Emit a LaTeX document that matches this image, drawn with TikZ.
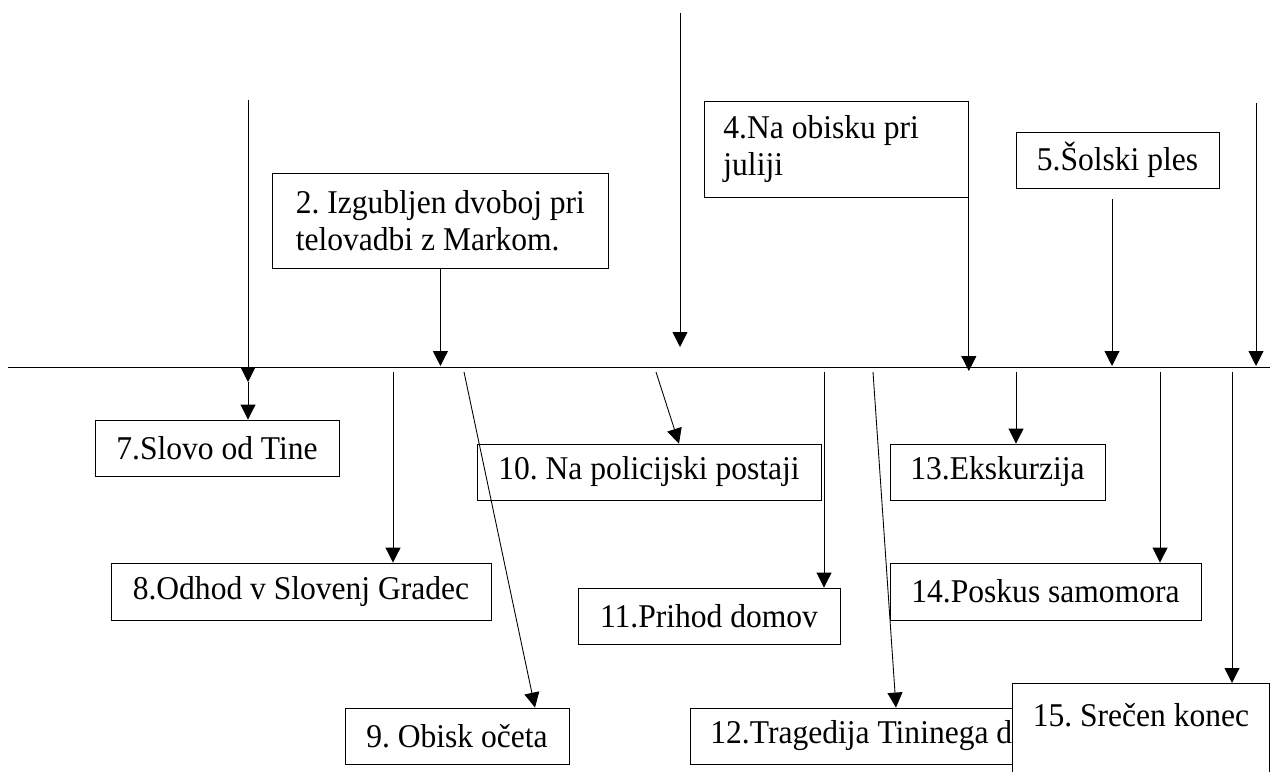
\documentclass[tikz,border=0pt]{standalone}
\usepackage{fontspec}
\setmainfont{Liberation Serif}[FakeStretch=0.95]
\usetikzlibrary{arrows.meta}
\frenchspacing

\tikzset{box/.style={draw, fill=white, inner sep=0pt, minimum height=1.12cm, font=\fontsize{18.9}{21}\selectfont\frenchspacing},
arr/.style={-{Triangle[length=0.3cm,width=0.3cm]}}}

\begin{document}
\begin{tikzpicture}[x=0.02cm,y=-0.02cm,line width=0.5pt]
\useasboundingbox (0,0) rectangle (1270,771);
\draw (8,367)--(1270,367);

% boxes above the line
\node (b2) at (272,173) [box, anchor=north west, inner xsep=0.42cm, minimum width=6.72cm, align=flush left, minimum height=1.9cm]{2. Izgubljen dvoboj pri\\telovadbi z Markom.};
\node (b4) at (704,101) [box, anchor=north west, inner xsep=0.38cm, text width=4.52cm, align=flush left, minimum height=1.92cm]{4.Na obisku pri\\juliji};
\node (b5) at (1117.5,160) [box, minimum width=4.06cm]{5.Šolski ples};

% boxes below the line
\node (b7) at (217,448) [box, minimum width=4.88cm]{7.Slovo od Tine};
\node (b8) at (301,591.5) [box, minimum width=7.6cm, minimum height=1.14cm]{8.Odhod v Slovenj Gradec};
\node (b9) at (457,736) [box, minimum width=4.48cm]{9. Obisk očeta};
\node (b10) at (649,472) [box, minimum width=6.88cm]{10. Na policijski postaji};
\node (b11) at (709,616) [box, minimum width=5.24cm]{11.Prihod domov};
\node (b12) at (690,736) [box, anchor=west, inner xsep=0.4cm, text width=7.2cm, align=flush left]{12.Tragedija Tininega d};
\node (b13) at (997.5,472) [box, minimum width=4.3cm]{13.Ekskurzija};
\node (b14) at (1045.5,591.5) [box, minimum width=6.22cm, minimum height=1.14cm]{14.Poskus samomora};
\node (b15) at (1012,683) [box, anchor=north west, minimum width=5.14cm, minimum height=0cm, inner ysep=0.4cm, text depth=2cm]{15. Srečen konec};

% arrows onto the line
\coordinate (t1) at (248,100);
\coordinate (t3) at (680,13);
\coordinate (t6) at (1256,103);
\coordinate (c5) at ([xshift=-0.11cm,yshift=-0.22cm]b5.south);
\draw[arr] (t1)--(t1 |- 0,382);
\draw[arr] (b2.south)--(b2.south |- 0,366);
\draw[arr] (t3)--(t3 |- 0,347);
\draw[arr] (b4.south east)--(b4.south east |- 0,371);
\draw[arr] (c5)--(c5 |- 0,366);
\draw[arr] (t6)--(t6 |- 0,366);

% arrows from the line
\draw[arr] (248,382)--(248,382 |- b7.north);
\draw[arr] (393,372)--(393,372 |- b8.north);
\draw[arr] (464,372)--(b9.north -| 535,0);
\draw[arr] (656,372)--(b10.north -| 679,0);
\draw[arr] (824,372)--(824,372 |- b11.north);
\draw[arr] (873,372)--(b12.north -| 896,0);
\draw[arr] (1016,372)--(1016,372 |- b13.north);
\draw[arr] (1160,372)--(1160,372 |- b14.north);
\draw[arr] (1232,372)--(1232,372 |- b15.north);
\end{tikzpicture}
\end{document}
